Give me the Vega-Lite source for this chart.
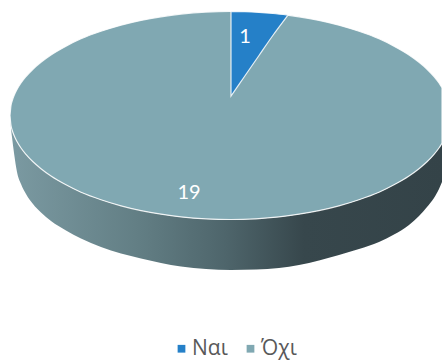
{
  "$schema": "https://vega.github.io/schema/vega-lite/v6.json",
  "width": 442,
  "height": 363,
  "padding": 0,
  "autosize": "none",
  "background": "white",
  "view": {"stroke": null},
  "datasets": {
    "wall": [
      {"x":10,"y":115.5,"y2":115.5},{"x":11,"y":125.4,"y2":128},{"x":12,"y":129.5,"y2":137},{"x":14,"y":135.2,"y2":153},
      {"x":17,"y":141.5,"y2":172},{"x":21,"y":148,"y2":184},{"x":26,"y":154.4,"y2":194},{"x":33,"y":161.8,"y2":204},
      {"x":41,"y":168.7,"y2":212.5},{"x":51,"y":176,"y2":221},{"x":66,"y":184.8,"y2":230.5},{"x":81,"y":192.2,"y2":238.5},
      {"x":101,"y":199.7,"y2":247},{"x":121,"y":205.8,"y2":253.5},{"x":141,"y":210.6,"y2":258.5},{"x":161,"y":214.2,"y2":263},
      {"x":181,"y":216.9,"y2":266.5},{"x":206,"y":218.9,"y2":269},{"x":231,"y":219.5,"y2":270},{"x":256,"y":218.8,"y2":269.5},
      {"x":279,"y":216.9,"y2":268},{"x":299,"y":214.2,"y2":265},{"x":319,"y":210.6,"y2":260.5},{"x":339,"y":205.8,"y2":255},
      {"x":359,"y":199.7,"y2":249},{"x":379,"y":192.2,"y2":242},{"x":394,"y":184.8,"y2":234.5},{"x":409,"y":176,"y2":225},
      {"x":419,"y":168.7,"y2":216},{"x":427,"y":161.8,"y2":207},{"x":434,"y":154.4,"y2":198},{"x":439,"y":148,"y2":189},
      {"x":442,"y":143.3,"y2":182}
    ],
    "slices": [
      {"answer":"Όχι","x":10,"y":115.5,"y2":115.5},{"answer":"Όχι","x":11,"y":105.6,"y2":125.4},{"answer":"Όχι","x":12,"y":101.5,"y2":129.5},
      {"answer":"Όχι","x":14,"y":95.8,"y2":135.2},{"answer":"Όχι","x":17,"y":89.5,"y2":141.5},{"answer":"Όχι","x":21,"y":83,"y2":148},
      {"answer":"Όχι","x":26,"y":76.6,"y2":154.4},{"answer":"Όχι","x":33,"y":69.2,"y2":161.8},{"answer":"Όχι","x":41,"y":62.3,"y2":168.7},
      {"answer":"Όχι","x":51,"y":55,"y2":176},{"answer":"Όχι","x":66,"y":46.2,"y2":184.8},{"answer":"Όχι","x":81,"y":38.8,"y2":192.2},
      {"answer":"Όχι","x":101,"y":31.3,"y2":199.7},{"answer":"Όχι","x":121,"y":25.2,"y2":205.8},{"answer":"Όχι","x":141,"y":20.4,"y2":210.6},
      {"answer":"Όχι","x":161,"y":16.8,"y2":214.2},{"answer":"Όχι","x":181,"y":14.1,"y2":216.9},{"answer":"Όχι","x":206,"y":12.1,"y2":218.9},
      {"answer":"Όχι","x":231,"y":11.5,"y2":219.5},{"answer":"Όχι","x":256,"y":12.2,"y2":218.8},{"answer":"Όχι","x":279,"y":14.1,"y2":216.9},
      {"answer":"Όχι","x":299,"y":16.8,"y2":214.2},{"answer":"Όχι","x":319,"y":20.4,"y2":210.6},{"answer":"Όχι","x":339,"y":25.2,"y2":205.8},
      {"answer":"Όχι","x":359,"y":31.3,"y2":199.7},{"answer":"Όχι","x":379,"y":38.8,"y2":192.2},{"answer":"Όχι","x":394,"y":46.2,"y2":184.8},
      {"answer":"Όχι","x":409,"y":55,"y2":176},{"answer":"Όχι","x":419,"y":62.3,"y2":168.7},{"answer":"Όχι","x":427,"y":69.2,"y2":161.8},
      {"answer":"Όχι","x":434,"y":76.6,"y2":154.4},{"answer":"Όχι","x":439,"y":83,"y2":148},{"answer":"Όχι","x":442,"y":87.7,"y2":143.3},
      {"answer":"Ναι","x":231,"y":11.5,"y2":96},{"answer":"Ναι","x":245,"y":11.7,"y2":75.75},{"answer":"Ναι","x":259,"y":12.4,"y2":55.5},
      {"answer":"Ναι","x":273,"y":13.5,"y2":35.25},{"answer":"Ναι","x":288,"y":15.1,"y2":15.1}
    ],
    "counts": [
      {"answer":"Ναι","value":1,"x":245,"y":37},
      {"answer":"Όχι","value":19,"x":189,"y":193}
    ]
  },
  "encoding": {
    "x": {"field":"x","type":"quantitative","scale":{"domain":[0,442],"nice":false,"zero":false},"axis":null}
  },
  "layer": [
    {
      "data": {"name":"wall"},
      "mark": {
        "type":"area",
        "interpolate":"monotone",
        "color": {
          "gradient":"linear","x1":0,"y1":0,"x2":1,"y2":0,
          "stops":[
            {"offset":0,"color":"#7b9aa2"},
            {"offset":0.3,"color":"#627e84"},
            {"offset":0.5,"color":"#4e656b"},
            {"offset":0.68,"color":"#37474c"},
            {"offset":1,"color":"#344348"}
          ]
        }
      },
      "encoding": {
        "y": {"field":"y","type":"quantitative","stack":false,"scale":{"domain":[363,0],"nice":false,"zero":false},"axis":null},
        "y2": {"field":"y2"}
      }
    },
    {
      "data": {"name":"slices"},
      "mark": {"type":"area","interpolate":"monotone","stroke":"white","strokeWidth":1.2,"strokeOpacity":0.85},
      "encoding": {
        "y": {"field":"y","type":"quantitative","stack":false,"scale":{"domain":[363,0],"nice":false,"zero":false},"axis":null},
        "y2": {"field":"y2"},
        "color": {
          "field":"answer","type":"nominal",
          "scale":{"domain":["Ναι","Όχι"],"range":["#2580c8","#80a8b2"]},
          "legend":{
            "title":null,"orient":"none","legendX":171,"legendY":338,"direction":"horizontal","columns":2,
            "symbolType":"square","symbolSize":60,"symbolStrokeWidth":0,"columnPadding":12,
            "labelFont":"Open Sans","labelFontSize":21,"labelColor":"#595959","labelOffset":0,"padding":0
          }
        }
      }
    },
    {
      "data": {"name":"counts"},
      "mark": {"type":"text","font":"Lato","fontSize":20,"color":"white","align":"center","baseline":"middle"},
      "encoding": {
        "y": {"field":"y","type":"quantitative","scale":{"domain":[363,0],"nice":false,"zero":false},"axis":null},
        "text": {"field":"value","type":"quantitative"}
      }
    }
  ]
}
